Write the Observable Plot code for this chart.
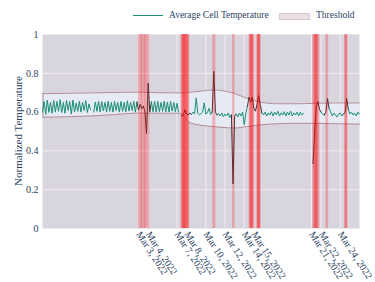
<!DOCTYPE html>
<html><head><meta charset="utf-8">
<script src="https://cdn.jsdelivr.net/npm/d3@7"></script>
<script src="https://cdn.jsdelivr.net/npm/@observablehq/plot@0.6"></script>
<style>
body{margin:0;background:#fff;font-family:"Times New Roman","Liberation Serif","DejaVu Serif",serif;}
#wrap{position:relative;width:375px;height:282px;}
#legend{position:relative;height:28px;width:375px;font-size:9.5px;color:#2a3f5f;}
#legend .sw-line{position:absolute;left:133px;top:14.5px;width:30px;height:1.5px;background:#1b8e77;}
#legend .sw-rect{position:absolute;left:279px;top:12.5px;width:31px;height:7px;background:#ecdfe1;border:0.5px solid #dcc6ca;box-sizing:border-box;}
#legend .lab{position:absolute;top:10px;line-height:10px;white-space:nowrap;}
#ytitle{position:absolute;left:18px;top:131px;transform:translate(-50%,-50%) rotate(-90deg);font-size:11px;color:#2a3f5f;white-space:nowrap;line-height:11px;}
svg text{font-family:"Times New Roman","Liberation Serif","DejaVu Serif",serif;}
</style></head><body>
<div id="wrap">
<div id="legend">
  <div class="sw-line"></div><div class="lab" style="left:169px">Average Cell Temperature</div>
  <div class="sw-rect"></div><div class="lab" style="left:316px">Threshold</div>
</div>
<div id="chart"></div>
<div id="ytitle">Normalized Temperature</div>
</div>
<script>
// ---- data ----
const seriesStart = "2022-02-21T00:00Z";
const stepHours = 4;
// Average cell temperature (normalized), one row per day: 00,04,08,12,16,20 h
const avgTemp = [
  0.600,0.655,0.588,0.662,0.598,0.650, // Feb 21
  0.594,0.660,0.600,0.655,0.604,0.664, // Feb 22
  0.598,0.650,0.594,0.660,0.608,0.655, // Feb 23
  0.590,0.662,0.600,0.646,0.604,0.656, // Feb 24
  0.600,0.650,0.608,0.660,0.598,0.642, // Feb 25
  0.612,null ,0.600,0.652,0.604,0.656, // Feb 26
  0.600,0.654,0.606,0.650,0.600,0.656, // Feb 27
  0.604,0.650,0.600,0.655,0.608,0.650, // Feb 28
  0.600,0.655,0.604,0.650,0.600,0.658, // Mar 1
  0.605,0.650,0.608,0.655,0.600,0.652, // Mar 2
  0.610,0.640,0.618,0.632,0.600,0.490, // Mar 3
  0.750,0.600,0.652,0.602,0.656,0.600, // Mar 4
  0.655,0.602,0.650,0.604,0.656,0.600, // Mar 5
  0.652,0.600,0.655,0.605,0.650,0.602, // Mar 6
  0.645,0.600,null ,0.580,0.586,0.612, // Mar 7
  0.590,0.585,0.595,0.588,0.600,0.590, // Mar 8
  0.673,0.594,0.586,0.592,0.600,0.648, // Mar 9
  0.590,0.596,0.620,0.588,0.600,0.810, // Mar 10
  0.600,0.585,0.592,0.580,0.596,0.576, // Mar 11
  0.590,0.580,0.595,0.572,0.586,0.230, // Mar 12
  0.580,0.590,0.575,0.595,0.580,0.600, // Mar 13
  0.535,0.592,0.630,0.677,0.650,0.677, // Mar 14
  0.620,0.605,0.640,0.685,0.640,0.595, // Mar 15
  0.585,0.600,0.580,0.596,0.585,0.602, // Mar 16
  0.580,0.600,0.586,0.605,0.580,0.596, // Mar 17
  0.585,0.602,0.580,0.600,0.585,0.605, // Mar 18
  0.580,0.596,0.585,0.600,0.580,0.600, // Mar 19
  0.585,0.595,null ,null ,null ,null , // Mar 20
  null ,0.335,0.500,0.630,0.655,0.615, // Mar 21
  0.600,0.590,0.585,0.600,0.670,0.620, // Mar 22
  0.600,0.580,0.595,0.585,0.575,0.590, // Mar 23
  0.595,0.580,0.590,0.600,0.670,0.615, // Mar 24
  0.590,0.600,0.585,0.595,0.580,0.600, // Mar 25
  0.590                                // Mar 26
];
// Threshold band
const thrDates = ["2022-02-21T00:00","2022-02-23T12:00","2022-02-26T00:00","2022-02-28T12:00","2022-03-03T00:00",
  "2022-03-05T00:00","2022-03-07T00:00","2022-03-07T12:00","2022-03-08T06:00","2022-03-09T12:00","2022-03-10T20:00",
  "2022-03-12T00:00","2022-03-13T00:00","2022-03-14T08:00","2022-03-15T16:00","2022-03-17T12:00","2022-03-19T12:00",
  "2022-03-21T06:00","2022-03-23T12:00","2022-03-26T00:00"];
const thrUpper = [0.695,0.697,0.699,0.701,0.703,0.700,0.699,0.699,0.702,0.708,0.714,0.708,0.696,0.670,0.652,0.643,0.643,0.645,0.647,0.647];
const thrLower = [0.574,0.576,0.580,0.587,0.595,0.594,0.594,0.590,0.548,0.532,0.525,0.520,0.518,0.526,0.534,0.540,0.542,0.542,0.540,0.538];
// Anomaly windows
const anomalyStart = ["2022-03-03T00:00","2022-03-03T08:00","2022-03-03T16:00",
  "2022-03-07T10:00","2022-03-07T12:00","2022-03-07T14:00","2022-03-07T18:00",
  "2022-03-10T17:30","2022-03-12T19:00",
  "2022-03-14T12:00","2022-03-14T14:00","2022-03-14T16:00",
  "2022-03-15T07:30","2022-03-15T09:00","2022-03-15T10:00",
  "2022-03-21T03:00","2022-03-21T06:00","2022-03-21T09:00",
  "2022-03-22T12:00","2022-03-24T11:00","2022-03-24T12:00"];
const anomalyEnd = ["2022-03-03T10:00","2022-03-03T18:00","2022-03-04T04:00",
  "2022-03-07T20:00","2022-03-08T08:00","2022-03-08T06:00","2022-03-08T04:00",
  "2022-03-11T01:00","2022-03-13T01:00",
  "2022-03-14T22:00","2022-03-15T02:30","2022-03-15T00:00",
  "2022-03-15T18:00","2022-03-15T16:00","2022-03-15T17:00",
  "2022-03-21T15:00","2022-03-21T21:00","2022-03-21T18:00",
  "2022-03-22T19:00","2022-03-24T19:00","2022-03-24T18:00"];
const xTickDates = ["2022-03-03","2022-03-04","2022-03-07","2022-03-08","2022-03-10","2022-03-12",
  "2022-03-14","2022-03-15","2022-03-21","2022-03-22","2022-03-24"];
const yTicks = [0, 0.2, 0.4, 0.6, 0.8, 1];
const xDomain = ["2022-02-21T00:00","2022-03-26T00:00"];

// ---- build ----
const toDate = s => new Date(s.length === 10 ? s + "T00:00Z" : s + "Z");
const t0 = new Date(seriesStart).getTime();
const bands = anomalyStart.map((s, i) => ({s: toDate(s), e: toDate(anomalyEnd[i])}));
const inBand = t => bands.some(b => t >= b.s && t <= b.e);
const pts = avgTemp.map((v, i) => ({t: new Date(t0 + i * stepHours * 3600e3), v}));
pts.forEach((p, i) => {
  const nxt = pts[i + 1];
  p.c = (inBand(p.t) || (nxt && inBand(nxt.t))) ? "#3b3838" : "#1b8e77";
});
const thr = thrDates.map((d, i) => ({t: toDate(d), hi: thrUpper[i], lo: thrLower[i]}));
const xTicks = xTickDates.map(toDate);
const fmt = d3.utcFormat("%b %-d, %Y");
const grid = "#f3ebef";
const serif = "'Times New Roman', 'Liberation Serif', 'DejaVu Serif', serif";

const chart = Plot.plot({
  width: 375, height: 254,
  marginTop: 6, marginBottom: 54, marginLeft: 42, marginRight: 16,
  style: {fontFamily: serif, fontSize: "10px", color: "#2a3f5f", background: "white", overflow: "visible"},
  x: {type: "utc", domain: xDomain.map(toDate)},
  y: {domain: [0, 1]},
  color: {type: "identity"},
  marks: [
    Plot.frame({fill: "#d9d5df", stroke: null}),
    Plot.gridY(yTicks.slice(1, -1), {stroke: grid, strokeOpacity: 1}),
    Plot.gridX(xTicks, {stroke: grid, strokeOpacity: 1}),
    Plot.areaY(thr, {x: "t", y1: "lo", y2: "hi", fill: "#e7ebf5", fillOpacity: 0.92, curve: "monotone-x"}),
    Plot.lineY(thr, {x: "t", y: "hi", stroke: "#b58e96", strokeWidth: 1, curve: "monotone-x"}),
    Plot.lineY(thr, {x: "t", y: "lo", stroke: "#b58e96", strokeWidth: 1, curve: "monotone-x"}),
    Plot.ruleX(thr.slice(0, 1), {x: "t", y1: "lo", y2: "hi", stroke: "#b58e96", strokeWidth: 1, dx: 0.5}),
    Plot.lineY(pts, {x: "t", y: "v", z: null, stroke: "c", strokeWidth: 1}),
    Plot.rect(bands, {x1: "s", x2: "e", fill: "#ff0000", fillOpacity: 0.25}),
    Plot.axisX(xTicks, {tickFormat: fmt, tickRotate: 57, tickSize: 0, tickPadding: 4, label: null, fontSize: 10}),
    Plot.axisY(yTicks, {tickFormat: d => String(d), tickSize: 0, tickPadding: 4, label: null, fontSize: 10})
  ]
});
document.getElementById("chart").appendChild(chart);
</script>
</body></html>
